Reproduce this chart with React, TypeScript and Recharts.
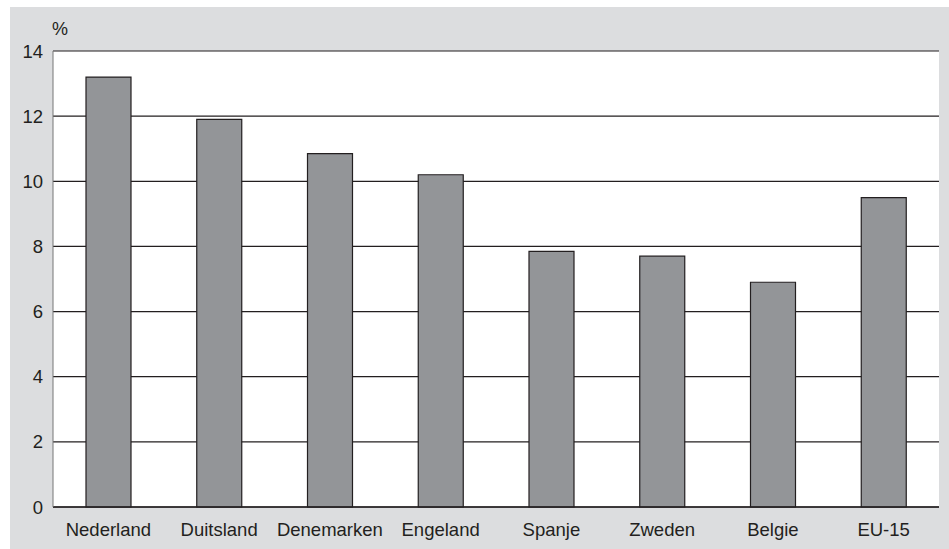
import { Bar, BarChart, CartesianGrid, XAxis, YAxis } from "recharts";

const countries = ["Nederland", "Duitsland", "Denemarken", "Engeland", "Spanje", "Zweden", "Belgie", "EU-15"];
const shares = [13.2, 11.9, 10.85, 10.2, 7.85, 7.7, 6.9, 9.5];
const yTicks = [0, 2, 4, 6, 8, 10, 12, 14];

const data = countries.map((name, i) => ({ name, value: shares[i] }));

const font = "'Liberation Sans', Arial, Helvetica, sans-serif";
const ink = "#231f20";

export default function App() {
  return (
    <div style={{ position: "absolute", left: 10, top: 7, width: 939, height: 542, background: "#dcdddf", fontFamily: font }}>
      <span style={{ position: "absolute", left: 42, top: 12, fontSize: 18, color: ink }}>%</span>
      <BarChart width={939} height={542} data={data} margin={{ top: 44, right: 10, bottom: 0, left: 0 }} barSize={45}>
        <CartesianGrid vertical={false} stroke={ink} strokeWidth={1.2} fill="#ffffff" fillOpacity={1} />
        <XAxis
          dataKey="name"
          height={42}
          tickLine={false}
          axisLine={{ stroke: ink, strokeWidth: 1.5 }}
          tick={{ fill: ink, fontSize: 18.5, fontFamily: font }}
          tickMargin={10}
        />
        <YAxis
          width={43}
          domain={[0, 14]}
          ticks={yTicks}
          tickLine={false}
          axisLine={{ stroke: "#777777" }}
          tick={{ fill: ink, fontSize: 18.5, fontFamily: font }}
          tickMargin={4}
        />
        <YAxis yAxisId="r" orientation="right" width={0} tick={false} tickLine={false} axisLine={{ stroke: ink }} domain={[0, 14]} />
        <Bar dataKey="value" fill="#939598" stroke={ink} strokeWidth={1.2} isAnimationActive={false} />
      </BarChart>
    </div>
  );
}
